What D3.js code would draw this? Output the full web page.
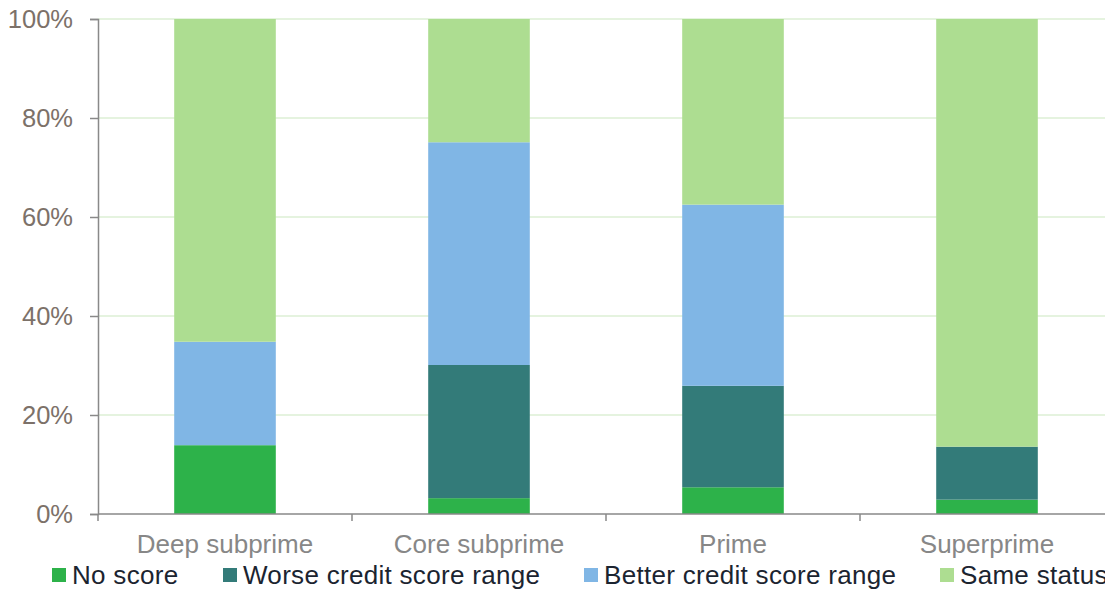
<!DOCTYPE html>
<html>
<head>
<meta charset="utf-8">
<script src="https://cdn.jsdelivr.net/npm/d3@7"></script>
<style>
  body { margin: 0; background: #fff; }
  svg { display: block; font-family: "Liberation Sans", Arial, sans-serif; }
</style>
</head>
<body>
<svg id="chart" width="1105" height="592"></svg>
<script>
'use strict';

// categories and series (percent of each group)
let categories = ["Deep subprime", "Core subprime", "Prime", "Superprime"]
let seriesNames = ["No score", "Worse credit score range", "Better credit score range", "Same status"]
let noScore = [13.9, 3.2, 5.4, 2.9]
let worseRange = [0, 26.9, 20.5, 10.7]
let betterRange = [20.9, 45.0, 36.6, 0]
let sameStatus = [65.2, 24.9, 37.5, 86.4]
let yTicks = [0, 20, 40, 60, 80, 100]
let colors = ["#2db24a", "#337b79", "#80b6e5", "#addd91"]

let svg = d3.select("#chart")

let plotLeft = 98, plotTop = 19, plotBottom = 514, plotRight = 1114

let rows = categories.map(function(c, i) {
    return {
        cat: c,
        "No score": noScore[i],
        "Worse credit score range": worseRange[i],
        "Better credit score range": betterRange[i],
        "Same status": sameStatus[i]
    }
})

let stack = d3.stack().keys(seriesNames)(rows)

let x = d3.scaleBand()
    .domain(categories)
    .range([plotLeft, plotRight])
    .paddingInner(0.6)
    .paddingOuter(0.3)

let y = d3.scaleLinear()
    .domain([0, 100])
    .range([plotBottom, plotTop])

let color = d3.scaleOrdinal().domain(seriesNames).range(colors)

// gridlines
svg.append("g")
    .selectAll("line")
    .data(yTicks.filter(function(d) { return d > 0 }))
    .enter().append("line")
    .attr("x1", plotLeft).attr("x2", 1105)
    .attr("y1", function(d) { return y(d) }).attr("y2", function(d) { return y(d) })
    .attr("stroke", "#dcefd4")
    .attr("stroke-width", 1.3)

// bars
svg.append("g")
    .selectAll("g")
    .data(stack)
    .enter().append("g")
    .attr("fill", function(d) { return color(d.key) })
    .selectAll("rect")
    .data(function(d) { return d })
    .enter().append("rect")
    .attr("x", function(d) { return x(d.data.cat) })
    .attr("width", x.bandwidth())
    .attr("y", function(d) { return y(d[1]) })
    .attr("height", function(d) { return y(d[0]) - y(d[1]) })

// y axis
let yAxis = svg.append("g")
    .attr("transform", "translate(" + plotLeft + ",0)")
    .call(d3.axisLeft(y).tickValues(yTicks).tickSize(8).tickPadding(17)
        .tickFormat(function(d) { return d + "%" }))
yAxis.select(".domain").attr("stroke", "#898989").attr("stroke-width", 1.5)
yAxis.selectAll(".tick line").attr("stroke", "#898989").attr("stroke-width", 1.5)
yAxis.selectAll(".tick text")
    .attr("fill", "#7c7169")
    .style("font-size", "25.5px")
    .style("font-family", "'Liberation Sans', Arial, sans-serif")

// x axis line and boundary ticks
let xAxis = svg.append("g")
xAxis.append("line")
    .attr("x1", plotLeft).attr("x2", 1105)
    .attr("y1", plotBottom).attr("y2", plotBottom)
    .attr("stroke", "#898989").attr("stroke-width", 1.5)
xAxis.selectAll(".xtick")
    .data(categories)
    .enter().append("line")
    .attr("class", "xtick")
    .attr("x1", function(d) { return x(d) - x.step() * 0.3 })
    .attr("x2", function(d) { return x(d) - x.step() * 0.3 })
    .attr("y1", plotBottom).attr("y2", plotBottom + 7)
    .attr("stroke", "#898989").attr("stroke-width", 1.5)
xAxis.selectAll(".xlabel")
    .data(categories)
    .enter().append("text")
    .attr("class", "xlabel")
    .attr("x", function(d) { return x(d) + x.bandwidth() / 2 })
    .attr("y", 553)
    .attr("text-anchor", "middle")
    .attr("fill", "#878787")
    .style("font-size", "26px")
    .text(function(d) { return d })

// legend
let legendX = [52, 223, 584, 940]
let legend = svg.append("g")
    .selectAll("g")
    .data(seriesNames)
    .enter().append("g")
    .attr("transform", function(d, i) { return "translate(" + legendX[i] + ",568)" })
legend.append("rect")
    .attr("width", 14).attr("height", 14)
    .attr("fill", function(d) { return color(d) })
legend.append("text")
    .attr("x", 20).attr("y", 16)
    .attr("fill", "#1b2430")
    .style("font-size", "26px")
    .style("letter-spacing", "0.3px")
    .text(function(d) { return d })
</script>
</body>
</html>
